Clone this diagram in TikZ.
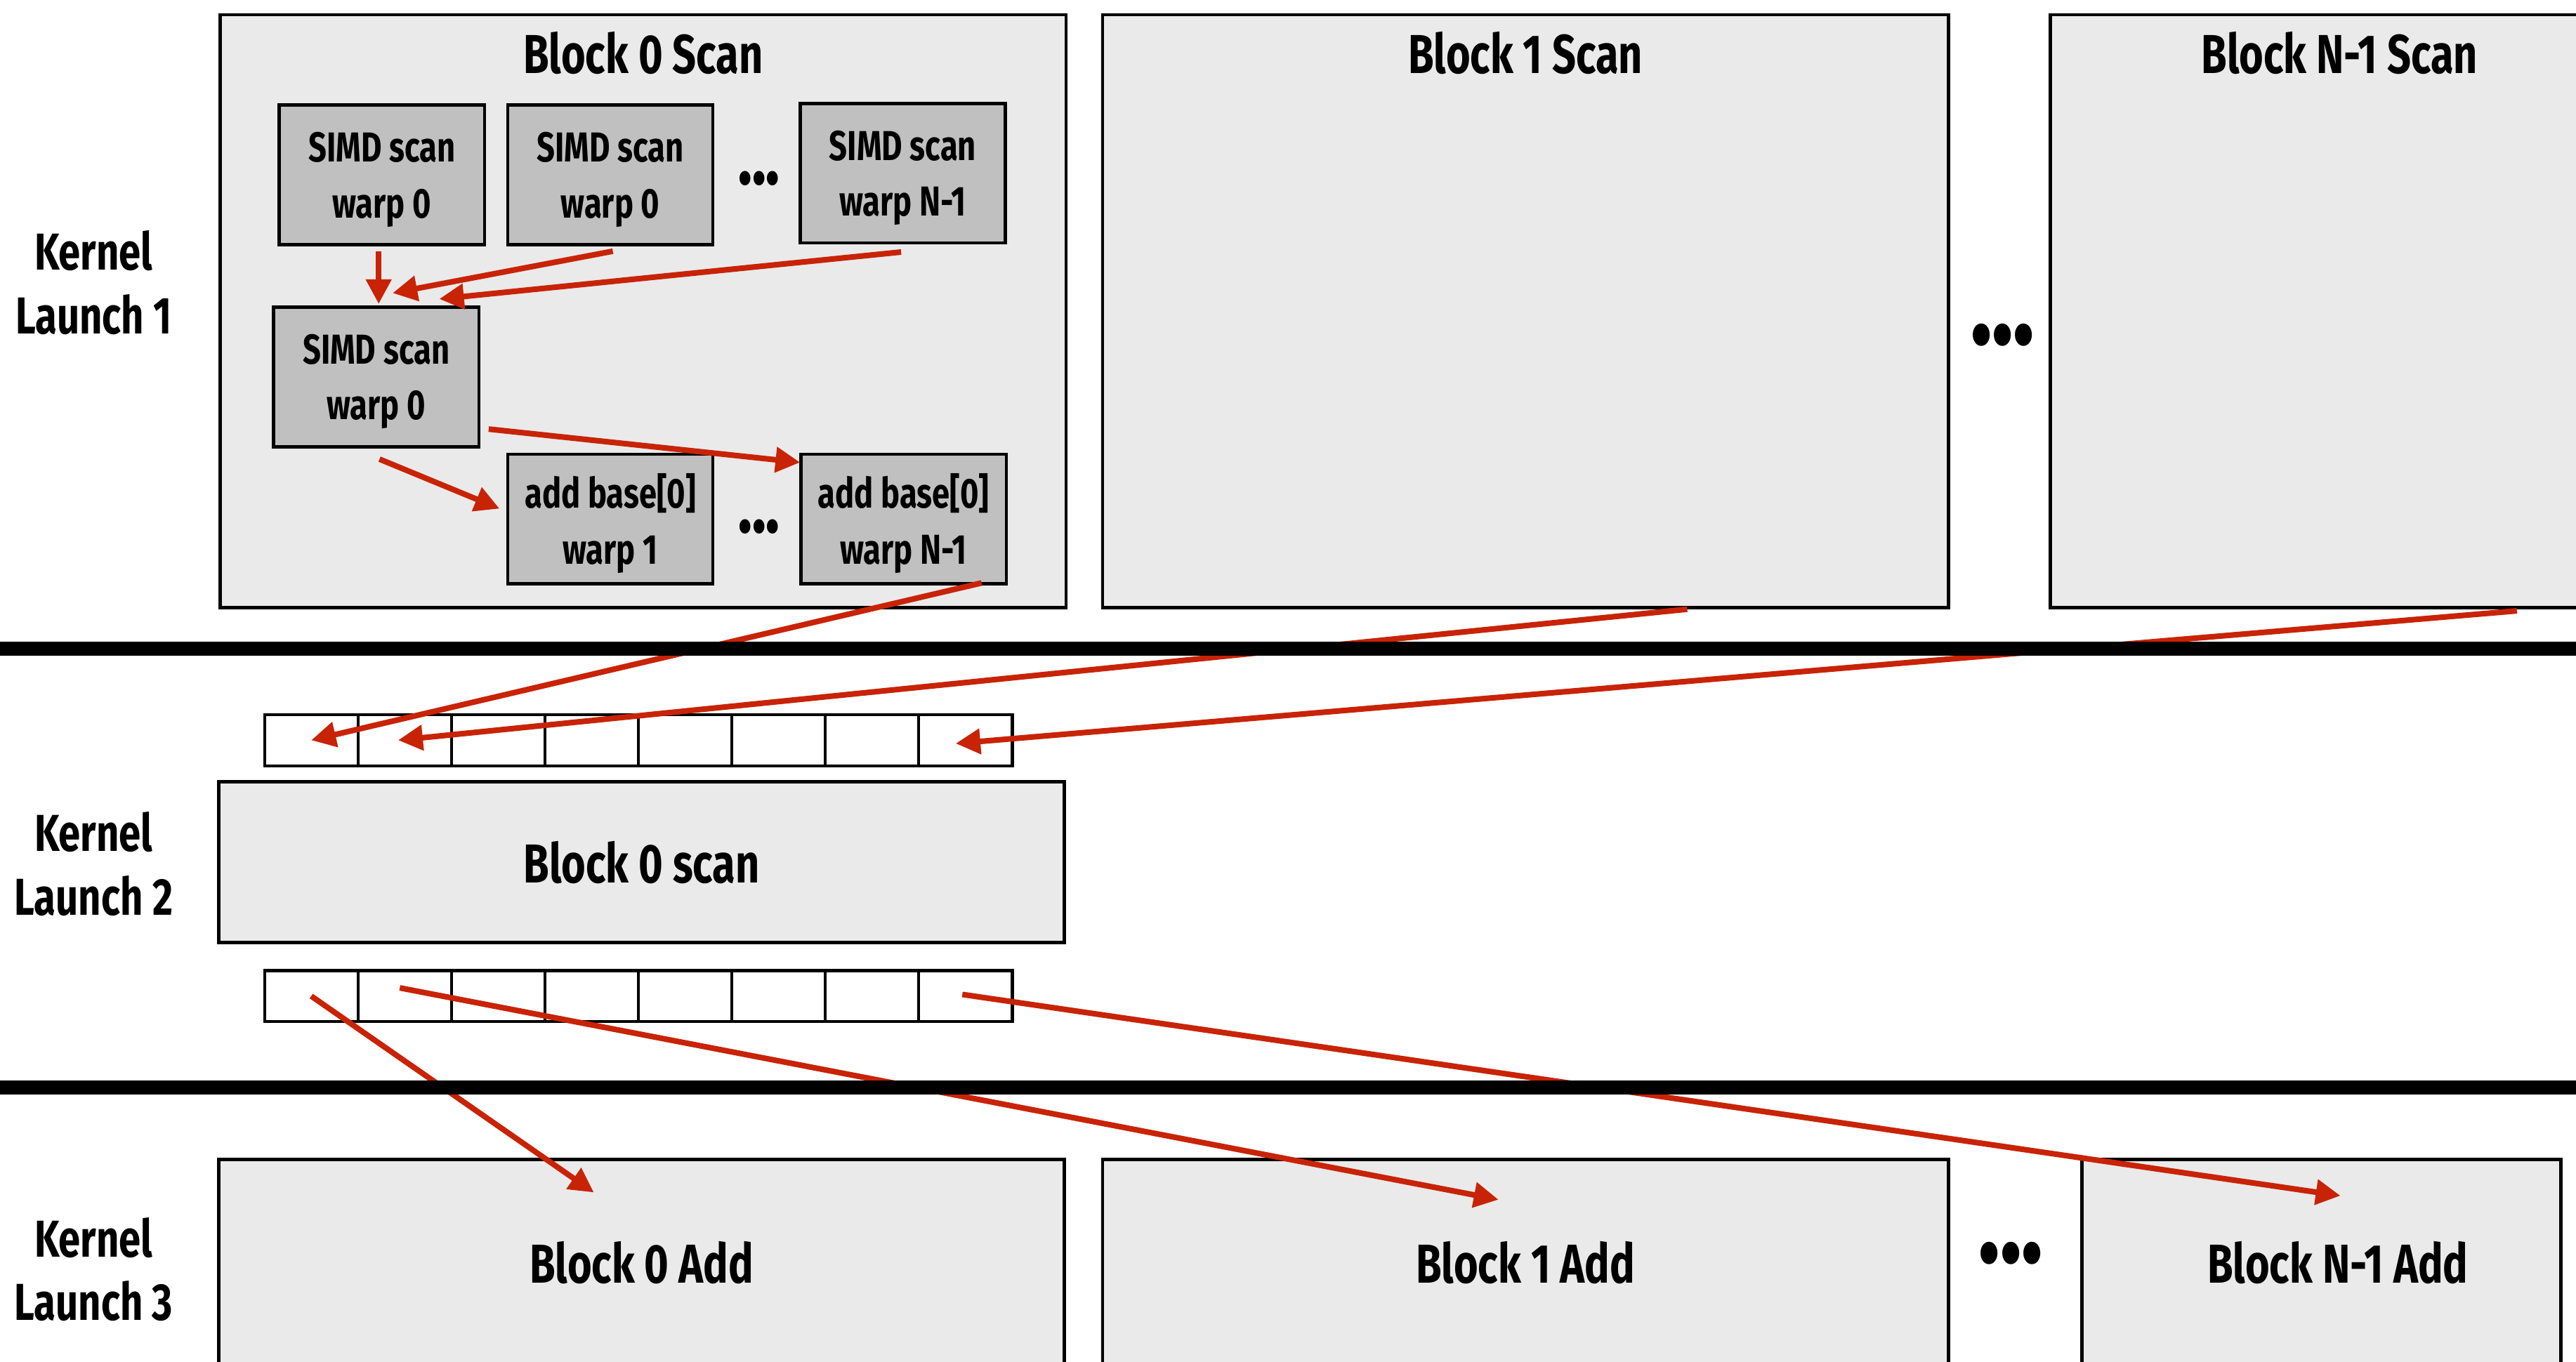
\documentclass[tikz,border=0pt]{standalone}
\usepackage{fontspec}
\setmainfont{Fira Sans}[FakeStretch=0.76]
\usetikzlibrary{arrows.meta,positioning}

\definecolor{blockgray}{RGB}{234,234,234}
\definecolor{warpgray}{RGB}{192,192,192}
\definecolor{arrowred}{RGB}{200,35,5}

\begin{document}
\begin{tikzpicture}[x=0.02cm,y=-0.02cm,
    bigblock/.style={draw,line width=1.1pt,fill=blockgray,inner sep=0pt,
      font=\bfseries\fontsize{19}{22}\selectfont},
    blocktitle/.style={inner sep=0pt,font=\bfseries\fontsize{19}{22}\selectfont},
    warpbox/.style={draw,line width=1.1pt,fill=warpgray,minimum width=2.5cm,
      minimum height=1.7cm,align=center,inner sep=0pt,text depth=0pt,
      font=\bfseries\fontsize{14.5}{19.4}\selectfont},
    cell/.style={draw,line width=1pt,fill=white,minimum width=1.138cm,
      minimum height=0.62cm,inner sep=0pt},
    kernel/.style={align=center,font=\bfseries\fontsize{18}{22}\selectfont},
    bigdots/.style={inner sep=0pt,font=\bfseries\fontsize{28}{30}\selectfont},
    smalldots/.style={inner sep=0pt,font=\bfseries\fontsize{18}{20}\selectfont},
    redarr/.style={draw=arrowred,line width=1.95pt,
      -{Triangle[length=0.3cm,width=0.3cm]}},
    sepline/.style={line width=4.9pt}]
  \useasboundingbox (0,0) rectangle (1568,829);

  % kernel launch 1: per-block scans
  \node[kernel] (k1) at (57,172) {Kernel\\Launch 1};
  \node[bigblock,minimum width=10.3cm,minimum height=7.22cm] (s0) at (391.5,189.5) {};
  \node[blocktitle,below=0.22cm of s0.north] (s0t) {Block 0 Scan};
  \node[bigblock,minimum width=10.3cm,minimum height=7.22cm] (s1) at (928.5,189.5) {};
  \node[blocktitle,below=0.22cm of s1.north] (s1t) {Block 1 Scan};
  \node[bigblock,minimum width=7.04cm,minimum height=7.22cm] (sN) at (1424,189.5) {};
  \node[blocktitle,below=0.22cm of sN.north] (sNt) {Block N-1 Scan};
  \node[bigdots] (sdots) at (1219,209) {•••};

  % warps inside block 0
  \node[warpbox] (sa) at (232.5,106.5) {SIMD scan\\warp 0};
  \node[warpbox] (sb) at (371.5,106.5) {SIMD scan\\warp 0};
  \node[smalldots] (wdots1) at (462,112) {•••};
  \node[warpbox] (sn) at (549.5,105.5) {SIMD scan\\warp N-1};
  \node[warpbox] (sc) at (229,229.5) {SIMD scan\\warp 0};
  \node[warpbox,minimum height=1.58cm] (ab1) at (371.5,316) {add base[0]\\warp 1};
  \node[smalldots] (wdots2) at (462,324) {•••};
  \node[warpbox,minimum height=1.58cm] (abn) at (550,316) {add base[0]\\warp N-1};

  \draw[redarr] ([shift={(-2,3)}]sa.south) -- ([shift={(1.5,-1)}]sc.north);
  \draw[redarr] ([shift={(1.5,3)}]sb.south) -- ([shift={(10,-7.6)}]sc.north);
  \draw[redarr] ([shift={(-1,4.5)}]sn.south) -- ([shift={(38.4,-4)}]sc.north);
  \draw[redarr] ([shift={(5,-11.7)}]sc.south east) -- ([shift={(0.5,6)}]abn.north west);
  \draw[redarr] ([shift={(2,6.6)}]sc.south) -- ([shift={(-4,-6.3)}]ab1.west);

  % kernel launch 2: scan of block sums
  \node[kernel] (k2) at (57,526) {Kernel\\Launch 2};
  \foreach \i in {1,...,8} {
    \node[cell] (u\i) at ({161+56.9*(\i-0.5)},450.7) {};
    \node[cell] (d\i) at ({161+56.9*(\i-0.5)},606.5) {};
  }
  \node[bigblock,minimum width=10.3cm,minimum height=1.96cm] (l2) at (390.5,525) {Block 0 scan};

  \draw[redarr] ([shift={(-16,-1.5)}]abn.south east) -- (u1.center);
  \draw[redarr] ([shift={(98.5,0)}]s1.south) -- ([shift={(-4,0)}]u2.center);
  \draw[redarr] ([shift={(108,1)}]sN.south) -- ([shift={(-6,2)}]u8.center);

  % kernel launch 3: add block sums
  \node[kernel] (k3) at (57,773) {Kernel\\Launch 3};
  \node[bigblock,minimum width=10.3cm,minimum height=2.52cm] (a0) at (390.5,769) {Block 0 Add};
  \node[bigblock,minimum width=10.3cm,minimum height=2.52cm] (a1) at (928.5,769) {Block 1 Add};
  \node[bigdots] (adots) at (1224,768) {•••};
  \node[bigblock,minimum width=5.83cm,minimum height=2.52cm] (aN) at (1413,769) {\hspace*{0.4cm}Block N-1 Add};

  \draw[redarr] (d1.center) -- ([shift={(-29,21)}]a0.north);
  \draw[redarr] ([shift={(-3,-5)}]d2.center) -- ([shift={(-16.4,25.4)}]a1.north);
  \draw[redarr] ([shift={(-2,-1)}]d8.center) -- ([shift={(11.6,23)}]aN.north);

  % launch boundaries
  \draw[sepline] (-5,395) -- (1580,395);
  \draw[sepline] (-5,662) -- (1580,662);
\end{tikzpicture}
\end{document}
